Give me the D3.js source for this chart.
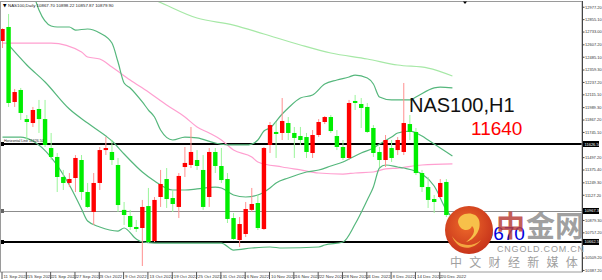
<!DOCTYPE html>
<html><head><meta charset="utf-8">
<script src="https://cdn.jsdelivr.net/npm/d3@7"></script>
<style>html,body{margin:0;padding:0;background:#fff;overflow:hidden}</style>
</head><body><svg id="c" width="602" height="280"></svg>
<script>
// ---- data ----
const opens  = [12640,12778,12040,12158,11872,11833,11971,11872,11587,11499,
  11302,11243,11292,11469,11154,10958,11243,11567,11548,11420,
  10978,10918,10810,10800,11016,10672,11105,11282,11095,11007,
  11400,11420,11469,11371,11105,11548,11410,11282,10898,10682,
  10741,10978,11046,10790,11617,11745,11735,11833,11735,11705,
  11695,11538,11715,11843,11892,11705,11597,11489,12050,12020,
  11991,11784,11548,11469,11587,11567,11548,11823,11745,11341,
  11203,11085,11105,11253];
const highs  = [12765,12906,12168,12178,11912,11991,12060,12060,11735,11538,
  11371,11341,11518,11518,11243,11341,11597,11695,11666,11489,
  11056,10978,10879,11076,11194,11105,11371,11390,11174,11341,
  11597,11794,11567,11518,11587,11587,11587,11341,10948,10908,
  11056,11194,11125,11597,11843,11843,12079,11892,11794,11794,
  11735,11764,11872,11902,11912,11764,11666,12060,12109,12079,
  12030,11813,11597,11715,11666,11695,12227,11912,11784,11371,
  11302,11125,11282,11282];
const lows   = [12571,11991,11991,11863,11666,11794,11735,11597,11469,11154,
  11174,11203,11154,11076,10997,10830,11174,11518,11420,10958,
  10830,10780,10761,10426,10652,10662,11007,10997,10958,10898,
  11302,11390,11371,10978,11007,11341,11243,10849,10682,10613,
  10711,10958,10780,10780,11538,11489,11666,11666,11489,11617,
  11489,11489,11695,11823,11735,11567,11469,11469,11961,11784,
  11735,11499,11400,11400,11450,11518,11518,11666,11321,11154,
  10997,10948,11095,10908];
const closes = [12758,12030,12138,11932,11843,11961,11872,11617,11499,11302,
  11243,11282,11489,11154,11007,11243,11567,11587,11469,11026,
  10928,10810,10790,11007,10662,11076,11233,11085,11036,11312,
  11440,11548,11410,11007,11548,11410,11272,10889,10692,10839,
  10987,11036,10800,11587,11813,11725,11853,11735,11686,11666,
  11548,11715,11843,11892,11754,11597,11489,12030,12030,11981,
  11745,11538,11469,11666,11489,11666,11833,11745,11341,11203,
  11076,11056,11243,10928];

const dateLabels = ["11 Sep 2022","15 Sep 2022","21 Sep 2022","27 Sep 2022","3 Oct 2022","9 Oct 2022",
  "13 Oct 2022","19 Oct 2022","25 Oct 2022","31 Oct 2022","6 Nov 2022","10 Nov 2022","16 Nov 2022",
  "22 Nov 2022","28 Nov 2022","4 Dec 2022","8 Dec 2022","14 Dec 2022","20 Dec 2022"];
const dateLabelIdx = [0,4,8,12,16,20,24,28,32,36,40,44,48,52,56,60,64,68,72];

const priceTicks = [12977.2,12855.1,12733.0,12607.2,12485.1,12359.3,12237.2,12115.1,11989.3,11867.2,
  11745.1,11497.2,11375.4,11249.3,11127.2,10879.3,10757.2,10509.2,10387.2];
const levelPrices = [11626.5, 10967.3, 10662.5];

// indicator lines: [bar index, price]
const upperBand = [[5,13122],[6,12945],[8,12788],[9,12778],[11,12778],[12,12748],[14,12758],[16,12719],
  [18,12620],[19,12433],[20,12227],[21,12178],[23,12040],[24,11961],[25,11892],[26,11764],[28,11666],
  [30,11695],[32,11686],[35,11636],[37,11617],[40,11617],[41,11626],[42,11666],[43,11754],[44,11784],
  [46,11922],[47,11981],[49,12079],[51,12109],[53,12217],[55,12256],[57,12286],[58,12305],[60,12276],
  [61,12217],[62,12089],[64,12060],[67,12060],[68,12089],[71,12178],[72,12187],[74,12178]];
const middleBand = [[1,12601],[4,12404],[7,12237],[11,11971],[14,11833],[17,11705],[18,11656],[20,11528],
  [23,11351],[25,11262],[28,11174],[30,11174],[32,11184],[35,11203],[36,11194],[38,11125],[40,11105],
  [42,11125],[44,11194],[45,11243],[47,11292],[50,11351],[52,11371],[54,11410],[56,11450],[57,11479],
  [59,11538],[61,11587],[62,11626],[64,11695],[65,11735],[67,11754],[69,11705],[70,11666],[72,11587],[74,11508]];
const lowerBand = [[0,11695],[3,11695],[5,11656],[11,11223],[13,10987],[14,10869],[16,10810],[19,10770],
  [20,10800],[22,10692],[23,10662],[25,10652],[28,10652],[32,10652],[36,10652],[38,10583],[41,10603],
  [44,10613],[46,10603],[52,10613],[53,10633],[56,10662],[58,10839],[60,11076],[61,11203],[62,11390],
  [63,11420],[65,11400],[66,11390],[69,11331],[71,11213],[73,10978],[74,10898]];
const pinkMA = [[0,12620],[8,12620],[13,12532],[14,12483],[16,12463],[18,12384],[21,12256],[24,12138],
  [27,12010],[30,11892],[32,11794],[34,11735],[36,11666],[38,11567],[41,11499],[42,11450],[46,11400],
  [49,11371],[52,11341],[56,11331],[58,11341],[61,11351],[63,11381],[65,11390],[69,11420],[74,11430]];
const longMA = [[19,13170],[25,13043],[32,12866],[38,12797],[43,12709],[49,12601],[54,12522],[60,12463],
  [65,12404],[70,12374],[74,12296]];

// ---- drawing ----
const svg = d3.select("#c");
const W = 602, H = 280;
const plotL = 1, plotR = 582, plotT = 2, plotB = 272;
const xs = d3.scaleLinear().domain([0, 95]).range([2.5, 2.5 + 6.08 * 95]);
const ys = d3.scaleLinear().domain([13023.8, 10367]).range([plotT, plotB]);
const FONT = "Liberation Sans, Arial, sans-serif";

svg.append("rect").attr("width", W).attr("height", H).attr("fill", "#fff");
const defs = svg.append("defs");
defs.append("clipPath").attr("id", "clip")
  .append("rect").attr("x", plotL).attr("y", plotT).attr("width", plotR - plotL).attr("height", plotB - plotT);

const g = svg.append("g").attr("clip-path", "url(#clip)");

// levels
const levelStyle = [{c:"#000", w:2},{c:"#8c8c8c", w:1},{c:"#000", w:2}];
levelPrices.forEach((p, i) => {
  const yy = Math.round(ys(p)) + (levelStyle[i].w === 1 ? 0.5 : 0);
  g.append("line").attr("x1", plotL).attr("x2", plotR).attr("y1", yy).attr("y2", yy)
    .attr("stroke", levelStyle[i].c).attr("stroke-width", levelStyle[i].w);
  g.append("rect").attr("x", plotL).attr("y", Math.round(ys(p)) - 2).attr("width", 3).attr("height", 4)
    .attr("fill", levelStyle[i].c === "#000" ? "#000" : "#666");
});

// indicator lines
const line = d3.line().x(d => xs(d[0])).y(d => ys(d[1])).curve(d3.curveMonotoneX);
[[longMA, "#a6e8a6", 1.2], [pinkMA, "#ff9fd0", 1.2],
 [upperBand, "#55b77c", 1.2], [middleBand, "#55b77c", 1.2], [lowerBand, "#55b77c", 1.2]]
 .forEach(([d, c, w]) => {
  g.append("path").datum(d).attr("d", line).attr("fill", "none").attr("stroke", c).attr("stroke-width", w);
 });

// candles
const idx = d3.range(opens.length);
const up = i => closes[i] >= opens[i];
g.selectAll(".wick").data(idx).join("line")
  .attr("x1", i => xs(i)).attr("x2", i => xs(i))
  .attr("y1", i => ys(highs[i])).attr("y2", i => ys(lows[i]))
  .attr("stroke", i => up(i) ? "#ff9090" : "#9af59a").attr("stroke-width", 1);
g.selectAll(".body").data(idx).join("rect")
  .attr("x", i => xs(i) - 2.2).attr("width", 4.4)
  .attr("y", i => ys(Math.max(opens[i], closes[i])))
  .attr("height", i => Math.max(1, Math.abs(ys(opens[i]) - ys(closes[i]))))
  .attr("fill", i => up(i) ? "#ff0000" : "#00ee00");

// frame
svg.append("rect").attr("x", 0.5).attr("y", 1.5).attr("width", plotR - 0.5).attr("height", plotB - 1.5)
  .attr("fill", "none").attr("stroke", "#9a9a9a").attr("stroke-width", 1);
svg.append("line").attr("x1", plotR + 0.5).attr("x2", plotR + 0.5).attr("y1", 1).attr("y2", plotB)
  .attr("stroke", "#444");

// right axis
const ra = svg.append("g").attr("transform", `translate(${plotR + 0.5},0)`)
  .call(d3.axisRight(ys).tickValues(priceTicks).tickSize(2).tickFormat(d3.format(".2f")));
ra.select(".domain").remove();
ra.selectAll("text").attr("font-family", FONT).attr("font-size", 4).attr("fill", "#333").attr("x", 2.5);
ra.selectAll("line").attr("stroke", "#444");

// level labels on right axis
levelPrices.forEach(p => {
  const y = ys(p);
  svg.append("rect").attr("x", plotR + 1).attr("y", y - 3).attr("width", 16).attr("height", 6).attr("fill", "#000");
  svg.append("text").attr("x", plotR + 2.5).attr("y", y + 1.5).text(d3.format(".2f")(p))
    .attr("font-family", FONT).attr("font-size", 4).attr("fill", "#fff");
});

// bottom axis
const ba = svg.append("g").attr("transform", `translate(0,${plotB})`)
  .call(d3.axisBottom(xs).tickValues(dateLabelIdx).tickSize(7).tickFormat((d, i) => dateLabels[i]));
ba.select(".domain").remove();
ba.selectAll(".tick line").attr("stroke", "#555").attr("transform", "translate(-1,0)");
ba.selectAll("text").attr("font-family", FONT).attr("font-size", 4.4)
  .attr("fill", "#333").attr("text-anchor", "start").attr("x", 0.5).attr("y", 3).attr("dy", "0.71em");

// top-left info
svg.append("text").attr("x", 3).attr("y", 6.5).text("▼")
  .attr("font-size", 4.5).attr("fill", "#000").attr("font-family", "DejaVu Sans, sans-serif");
svg.append("text").attr("x", 8).attr("y", 6.5).text("NAS100,Daily  10867.70 10898.22 10857.87 10879.90")
  .attr("font-size", 4.4).attr("fill", "#222").attr("font-family", FONT);
svg.append("path").attr("d", "M463,1.5 L467,1.5 L465,4 Z").attr("fill", "#000");
svg.append("text").attr("x", 4).attr("y", 141.5).text("Horizontal Line 11626.50")
  .attr("font-size", 3.6).attr("fill", "#222").attr("font-family", FONT);

// annotations
svg.append("text").attr("x", 409).attr("y", 112).text("NAS100,H1")
  .attr("font-family", FONT).attr("font-size", 20).attr("fill", "#111");
svg.append("text").attr("x", 471).attr("y", 135).text("11640")
  .attr("font-family", FONT).attr("font-size", 19).attr("fill", "#ff0000");
svg.append("text").attr("x", 472).attr("y", 240).text("10670")
  .attr("font-family", FONT).attr("font-size", 19).attr("fill", "#0000dd");

// watermark
const wm = svg.append("g");
const rg = defs.append("radialGradient").attr("id", "lg").attr("cx", "45%").attr("cy", "40%").attr("r", "65%");
rg.append("stop").attr("offset", "0%").attr("stop-color", "#ee6a2a");
rg.append("stop").attr("offset", "100%").attr("stop-color", "#c5301a");
wm.append("circle").attr("cx", 469).attr("cy", 230).attr("r", 24).attr("fill", "url(#lg)");
wm.append("path").attr("d", "M458,222 C458,212 476,210 479,220 C482,230 474,240 466,242 C474,236 476,230 472,226 C470,232 460,232 458,222 Z")
  .attr("fill", "#f7c04a");
wm.append("path").attr("d", "M452,236 C458,246 472,248 481,240 C474,250 458,252 452,236 Z").attr("fill", "#f4a640");
wm.append("text").attr("x", 496).attr("y", 237).text("中")
  .attr("font-family", "Noto Sans CJK SC").attr("font-weight", "bold").attr("font-size", 29).attr("fill", "#b9413a").attr("fill-opacity", 0.85);
wm.append("text").attr("x", 526).attr("y", 237).text("金网")
  .attr("font-family", "Noto Sans CJK SC").attr("font-weight", "bold").attr("font-size", 29).attr("fill", "#8f8f8f").attr("fill-opacity", 0.85);
wm.append("text").attr("x", 497).attr("y", 252).text("CNGOLD.COM.CN")
  .attr("font-family", FONT).attr("font-size", 9).attr("letter-spacing", 0.8).attr("fill", "#9a9a9a");
wm.append("text").attr("x", 450).attr("y", 267).text("中文财经新媒体")
  .attr("font-family", "Noto Sans CJK SC").attr("font-size", 12).attr("letter-spacing", 7.3).attr("fill", "#a0a0a0");
</script></body></html>
